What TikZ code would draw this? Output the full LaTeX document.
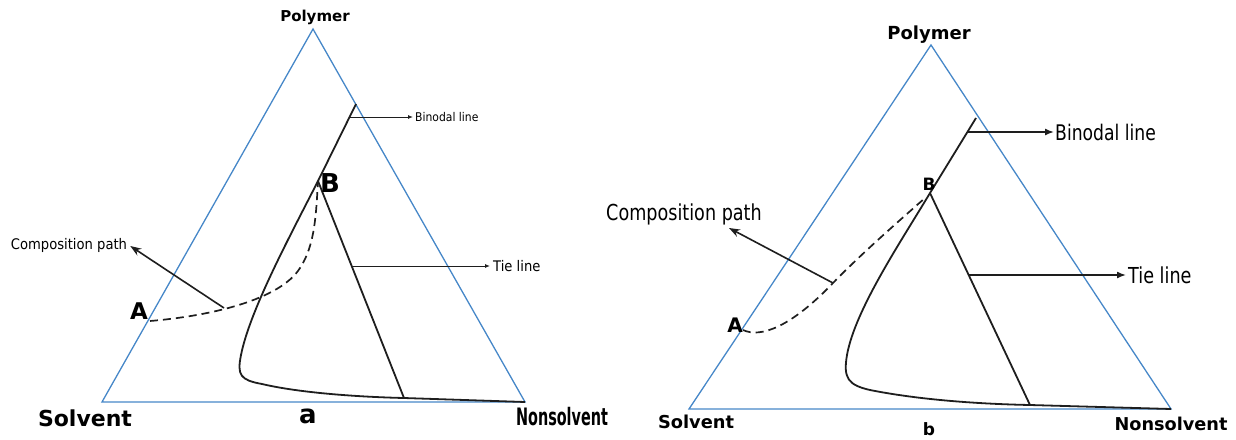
\documentclass[tikz,border=0pt]{standalone}
\usepackage{fontspec}
\setmainfont{DejaVu Sans}
\newfontfamily\lab{DejaVu Sans}
\newfontfamily\condl[FakeStretch=0.9]{DejaVu Sans}
\newfontfamily\condr[FakeStretch=0.8]{DejaVu Sans}
\newfontfamily\narrowb[FakeStretch=0.6]{DejaVu Sans}
\usetikzlibrary{arrows.meta}
\definecolor{triblue}{RGB}{70,135,200}
\definecolor{ink}{RGB}{30,30,30}
\tikzset{
  tri/.style={draw=triblue, line width=1.3pt, line join=miter},
  curve/.style={draw=ink, line width=1.8pt},
  comp/.style={draw=ink, line width=1.7pt, dash pattern=on 8pt off 5pt},
  txt/.style={inner sep=0pt, text=black},
  sarrow/.style={draw=ink, line width=0.9pt, -{Latex[length=5pt,width=4pt]}},
  barrow/.style={draw=ink, line width=1.5pt, -{Latex[length=9pt,width=7pt]}},
  carrow/.style={draw=ink, line width=1.6pt, -{Stealth[length=11pt,width=8pt]}},
}
\begin{document}
\begin{tikzpicture}[x=1pt,y=-1pt]
\useasboundingbox (0,0) rectangle (1236,439);
% ---------------- left panel (a) ----------------
\coordinate (P1) at (313,29);
\coordinate (S1) at (102,402);
\coordinate (N1) at (525,402);
\draw[tri] (P1) -- (S1) -- (N1) -- cycle;
\coordinate (bt1) at (356,104);
\coordinate (B1) at (318,181);
\coordinate (tb1) at (404,398);
\coordinate (bn1) at (349.6,117);
\coordinate (tn1) at (352,266);
\coordinate (A1) at (150,321);
\coordinate (cp1) at (224,308);
\draw[curve] (bt1) -- (B1) .. controls (290,236) and (250,310) .. (241,355)
  .. controls (237,375) and (240,380) .. (262,384)
  .. controls (300,393) and (360,397) .. (tb1) -- (N1);
\draw[curve] (B1) -- (tb1);
\draw[comp] (A1) .. controls (210,316) and (280,300) .. (300,268)
  .. controls (315,245) and (316,215) .. (B1);
\node[txt, font=\bfseries\fontsize{15}{18}\selectfont] (lpol) at (315,17) {Polymer};
\node[txt, font=\bfseries\fontsize{22}{26}\selectfont] (lsol) at (85,418) {Solvent};
\node[txt, font=\narrowb\bfseries\fontsize{24}{28}\selectfont] (lnon) at (562,417) {Nonsolvent};
\node[txt, font=\bfseries\fontsize{26}{30}\selectfont] (la) at (308,416) {a};
\node[txt, font=\bfseries\fontsize{23}{27}\selectfont] (lA) at (139,311) {A};
\node[txt, font=\bfseries\fontsize{26}{30}\selectfont] (lB) at (330,183) {B};
\node[txt, anchor=west, font=\condl\fontsize{12}{14}\selectfont] (lbin) at (415,117) {Binodal line};
\node[txt, anchor=west, font=\condl\fontsize{14.6}{16}\selectfont] (ltie) at (493,266) {Tie line};
\node[txt, font=\condl\fontsize{14.6}{17}\selectfont] (lcomp) at (69,245) {Composition path};
\draw[sarrow] (bn1) -- ([xshift=-2pt]lbin.west);
\draw[sarrow] (tn1) -- ([xshift=-3pt]ltie.west);
\draw[carrow] (cp1) -- ([xshift=3pt,yshift=-1pt]lcomp.east);
% ---------------- right panel (b) ----------------
\coordinate (P2) at (931,45);
\coordinate (S2) at (689,409);
\coordinate (N2) at (1171,409);
\draw[tri] (P2) -- (S2) -- (N2) -- cycle;
\coordinate (bt2) at (976,118);
\coordinate (B2) at (930,193);
\coordinate (tb2) at (1030,405);
\coordinate (bn2) at (967.4,132);
\coordinate (tn2) at (968.7,275);
\coordinate (A2) at (743,330);
\coordinate (cp2) at (833,283);
\coordinate (ct2) at (729,228);
\draw[curve] (bt2) -- (B2) .. controls (900,243) and (855,310) .. (847,355)
  .. controls (843,378) and (848,385) .. (870,390)
  .. controls (920,400) and (980,404) .. (tb2) -- (N2);
\draw[curve] (B2) -- (tb2);
\draw[comp] (A2) .. controls (760,338) and (790,328) .. (cp2)
  .. controls (860,255) and (900,220) .. (925,198);
\node[txt, font=\bfseries\fontsize{18}{21}\selectfont] (rpol) at (929,35) {Polymer};
\node[txt, font=\bfseries\fontsize{17.8}{21}\selectfont] (rsol) at (696,422) {Solvent};
\node[txt, font=\bfseries\fontsize{17.7}{21}\selectfont] (rnon) at (1171,424) {Nonsolvent};
\node[txt, font=\bfseries\fontsize{17}{20}\selectfont] (rb) at (929,429) {b};
\node[txt, font=\bfseries\fontsize{20}{24}\selectfont] (rA) at (735,325) {A};
\node[txt, font=\bfseries\fontsize{17}{20}\selectfont] (rB) at (929,184) {B};
\node[txt, anchor=west, font=\condr\fontsize{21.5}{25}\selectfont] (rbin) at (1055,132) {Binodal line};
\node[txt, anchor=west, font=\condr\fontsize{22}{25}\selectfont] (rtie) at (1128,275) {Tie line};
\node[txt, font=\condr\fontsize{22}{26}\selectfont] (rcomp) at (684,214) {Composition path};
\draw[barrow] (bn2) -- ([xshift=-1pt]rbin.west);
\draw[barrow] (tn2) -- ([xshift=-2pt]rtie.west);
\draw[carrow] (cp2) -- (ct2);
\end{tikzpicture}
\end{document}
